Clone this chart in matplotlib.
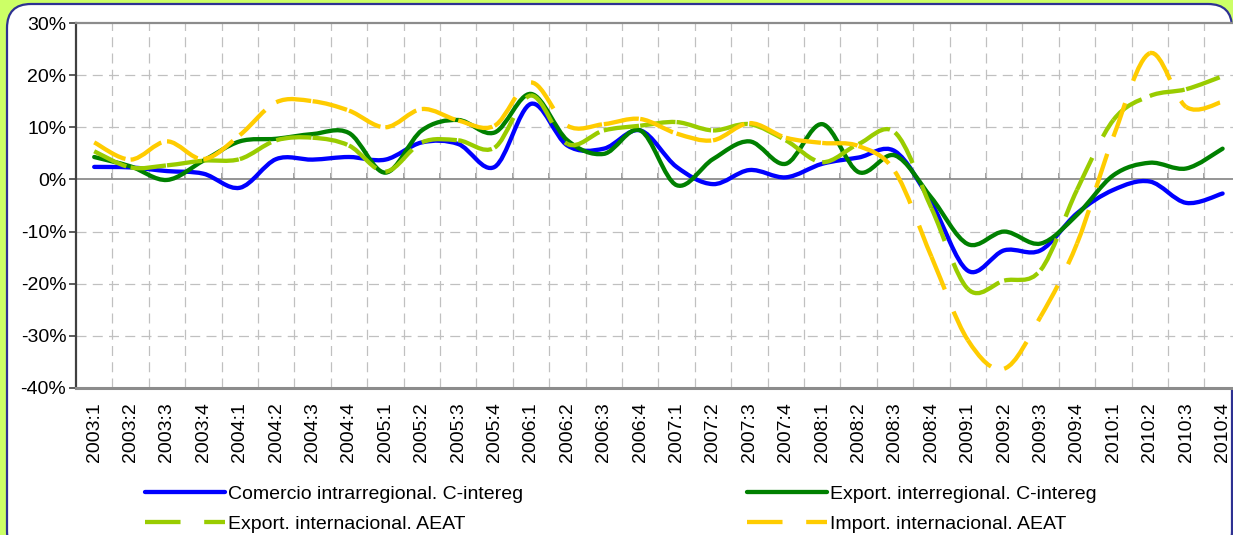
import numpy as np
import matplotlib
matplotlib.use("Agg")
import matplotlib.pyplot as plt
from matplotlib.path import Path
from matplotlib.patches import PathPatch, FancyBboxPatch
from matplotlib.lines import Line2D
from matplotlib.transforms import IdentityTransform

plt.rcParams['font.family'] = ['Liberation Sans', 'DejaVu Sans']

quarters = ["2003:1", "2003:2", "2003:3", "2003:4", "2004:1", "2004:2", "2004:3", "2004:4",
            "2005:1", "2005:2", "2005:3", "2005:4", "2006:1", "2006:2", "2006:3", "2006:4",
            "2007:1", "2007:2", "2007:3", "2007:4", "2008:1", "2008:2", "2008:3", "2008:4",
            "2009:1", "2009:2", "2009:3", "2009:4", "2010:1", "2010:2", "2010:3", "2010:4"]

comercio_intra = [2.4, 2.3, 1.6, 1.1, -1.6, 3.9, 3.8, 4.3, 3.8, 7.1, 6.8, 2.4, 14.5, 6.5, 5.9, 9.4,
                  2.4, -0.9, 1.8, 0.4, 3.0, 4.2, 5.4, -4.5, -17.5, -13.6, -13.6, -6.5, -2.0, -0.4, -4.5, -2.7]
export_inter = [4.3, 2.5, -0.1, 3.6, 7.3, 7.8, 8.7, 8.9, 1.3, 9.4, 11.4, 9.0, 16.4, 7.5, 4.9, 9.4,
                -1.1, 3.9, 7.3, 3.0, 10.6, 1.4, 4.6, -3.5, -12.4, -10.0, -12.3, -6.8, 0.8, 3.2, 2.1, 5.9]
export_intl = [5.4, 2.3, 2.7, 3.6, 3.9, 7.5, 8.0, 6.5, 1.5, 7.1, 7.5, 6.1, 16.1, 6.8, 9.4, 10.3,
               11.0, 9.4, 10.6, 7.5, 3.3, 6.8, 9.0, -5.5, -21.0, -19.4, -17.4, -2.0, 11.4, 16.0, 17.3, 19.8]
import_intl = [7.1, 3.8, 7.3, 3.9, 8.5, 14.8, 15.0, 13.2, 10.0, 13.5, 11.3, 10.3, 18.6, 10.3, 10.6, 11.6,
               8.8, 7.5, 10.8, 8.0, 7.0, 6.4, 1.5, -14.8, -30.8, -36.3, -26.3, -12.3, 8.2, 24.2, 13.9, 14.9]

labels = ["Comercio intrarregional. C-intereg", "Export. interregional. C-intereg",
          "Export. internacional. AEAT", "Import. internacional. AEAT"]
yticks = [-40, -30, -20, -10, 0, 10, 20, 30]

W, H = 1233, 535
fig = plt.figure(figsize=(W / 100, H / 100), dpi=100, facecolor="#CCFF66")

# rounded white frame
frame = FancyBboxPatch((7, -20), 1225, 551, boxstyle="round,pad=0,rounding_size=24",
                       transform=IdentityTransform(), facecolor="white",
                       edgecolor="#2E3192", linewidth=1.6, zorder=-5)
fig.add_artist(frame)

ax = fig.add_axes([76 / W, 147 / H, 1164.8 / W, 365 / H])
ax.set_facecolor("white")
n = len(quarters)
xs = np.arange(n)
ax.set_xlim(-0.5, n - 0.5)
ax.set_ylim(-40, 30)


def bezier_segments(x, y):
    P = np.column_stack([x, y]).astype(float)
    segs = []
    for i in range(len(P) - 1):
        p0 = P[i - 1] if i > 0 else P[i]
        p1 = P[i]
        p2 = P[i + 1]
        p3 = P[i + 2] if i + 2 < len(P) else P[i + 1]
        c1 = p1 + (p2 - p0) / 6.0
        c2 = p2 - (p3 - p1) / 6.0
        segs.append(np.array([p1, c1, c2, p2]))
    return segs


def draw_solid(y, color, lw):
    segs = bezier_segments(xs, y)
    verts = [segs[0][0]]
    codes = [Path.MOVETO]
    for s in segs:
        verts.extend(s[1:])
        codes.extend([Path.CURVE4] * 3)
    p = PathPatch(Path(verts, codes), fill=False, edgecolor=color, lw=lw,
                  joinstyle="round", capstyle="round", zorder=3)
    ax.add_patch(p)


DASH = (0, (8.25, 5.5))


def draw_dashed(y, color, lw):
    for s in bezier_segments(xs, y):
        p = PathPatch(Path(s, [Path.MOVETO, Path.CURVE4, Path.CURVE4, Path.CURVE4]),
                      fill=False, edgecolor=color, lw=lw, linestyle=DASH,
                      capstyle="butt", zorder=3)
        ax.add_patch(p)


LW = 3.1
draw_solid(comercio_intra, "#0000FF", LW)
draw_solid(export_inter, "#008000", LW)
draw_dashed(export_intl, "#99CC00", LW)
draw_dashed(import_intl, "#FFCC00", LW)

# grid
gcol = "#C0C0C0"
for v in yticks:
    if v not in (-40, 0, 30):
        ax.axhline(v, color=gcol, lw=0.9, linestyle=(0, (8, 5)), zorder=1)
for b in np.arange(0.5, n - 0.5, 1.0):
    ax.axvline(b, color=gcol, lw=0.9, linestyle=(0, (8, 5)), zorder=1)

# zero line
ax.axhline(0, color="#8C8C8C", lw=1.3, zorder=2)

# spines
ax.spines["right"].set_visible(False)
ax.spines["top"].set_color("#8C8C8C")
ax.spines["top"].set_linewidth(1.6)
ax.spines["left"].set_color("#404040")
ax.spines["left"].set_linewidth(1.6)
ax.spines["bottom"].set_color("#8C8C8C")
ax.spines["bottom"].set_linewidth(2.2)

# y axis
ax.set_yticks(yticks)
ax.set_yticklabels([f"{v}%" for v in yticks], fontsize=14)
ax.tick_params(axis="y", direction="out", length=5, width=1.2, color="#404040", pad=2)

# x axis labels at bottom
ax.set_xticks(xs)
ax.set_xticklabels(quarters, rotation=90, fontsize=14, va="top", ha="center")
ax.tick_params(axis="x", length=0, pad=10)

# category boundary ticks on the zero line
zero_frac = (0 - (-40)) / 70.0
sec = ax.secondary_xaxis(zero_frac)
for sp in sec.spines.values():
    sp.set_visible(False)
sec.set_xticks(np.arange(0.5, n - 0.5, 1.0))
sec.set_xticklabels([])
sec.tick_params(axis="x", direction="out", length=4, width=1.2, color="#8C8C8C")

# legends
fs = 14
h_blue = Line2D([], [], color="#0000FF", lw=LW, solid_capstyle="round")
h_dg = Line2D([], [], color="#008000", lw=LW, solid_capstyle="round")
h_lg = Line2D([], [], color="#99CC00", lw=LW, linestyle=DASH, dash_capstyle="butt")
h_ye = Line2D([], [], color="#FFCC00", lw=LW, linestyle=DASH, dash_capstyle="butt")

common = dict(frameon=False, fontsize=fs, handlelength=4.1, handletextpad=0.15,
              labelspacing=0.66, borderpad=0, borderaxespad=0, loc="center left")
leg1 = fig.legend([h_blue, h_lg], [labels[0], labels[2]],
                  bbox_to_anchor=(145 / W, 1 - 509 / H), **common)
leg2 = fig.legend([h_dg, h_ye], [labels[1], labels[3]],
                  bbox_to_anchor=(747 / W, 1 - 509 / H), **common)

fig.savefig("out.png", dpi=100, facecolor=fig.get_facecolor())
